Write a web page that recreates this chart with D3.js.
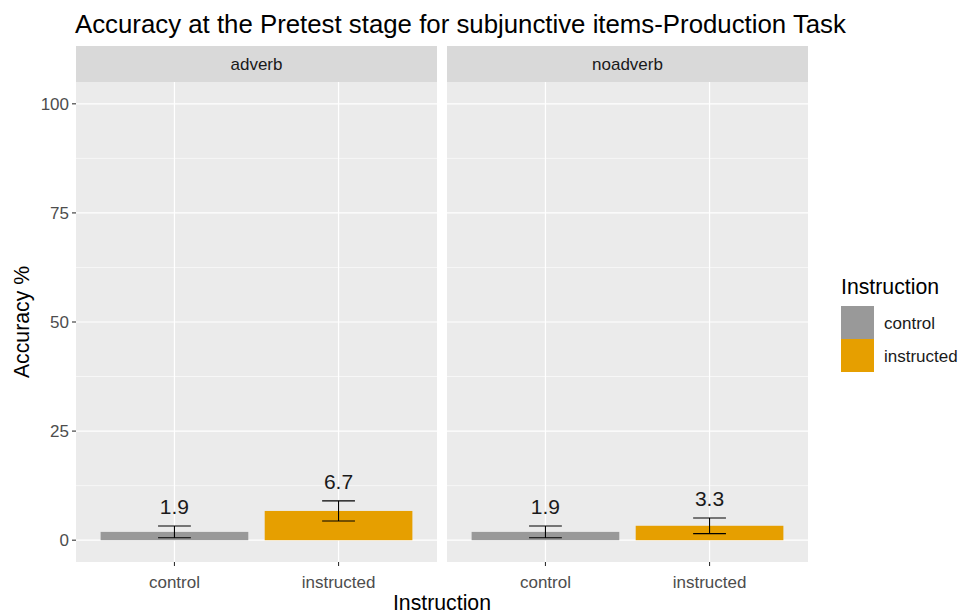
<!DOCTYPE html>
<html>
<head>
<meta charset="utf-8">
<script src="https://cdn.jsdelivr.net/npm/d3@7"></script>
<style>
  body { margin: 0; background: #fff; }
  text { font-family: "Liberation Sans", Arial, sans-serif; }
</style>
</head>
<body>
<svg id="chart" width="964" height="615"></svg>
<script>
// Facets, groups and summary values (mean accuracy % with standard error)
const facets = ["adverb", "noadverb"];
const groups = ["control", "instructed"];
const meanAdverb = [1.9, 6.7];
const seAdverb = [1.35, 2.3];
const meanNoadverb = [1.9, 3.3];
const seNoadverb = [1.35, 1.8];
const yTicks = [0, 25, 50, 75, 100];
const colors = ["#999999", "#E69F00"];

const facetData = [
  { name: facets[0], mean: meanAdverb, se: seAdverb },
  { name: facets[1], mean: meanNoadverb, se: seNoadverb }
];

const svg = d3.select("#chart");

const panelTop = 82, panelBottom = 562, stripTop = 46;
const panelX = [76, 447], panelW = 361;
const small = 17, axisTitle = 21.25, titleSize = 25.8;

const y = d3.scaleLinear().domain([-5, 105]).range([panelBottom, panelTop]);

// Title
svg.append("text").attr("x", 75).attr("y", 33)
  .attr("font-size", titleSize).attr("fill", "#000")
  .text("Accuracy at the Pretest stage for subjunctive items-Production Task");

facetData.forEach((f, fi) => {
  const x0 = panelX[fi];
  // discrete positions 1..n with 0.6 expansion on each side
  const x = d3.scaleLinear().domain([0.4, groups.length + 0.6]).range([x0, x0 + panelW]);
  const g = svg.append("g");

  // strip
  g.append("rect").attr("x", x0).attr("y", stripTop).attr("width", panelW)
    .attr("height", panelTop - stripTop).attr("fill", "#d9d9d9");
  g.append("text").attr("x", x0 + panelW / 2).attr("y", (stripTop + panelTop) / 2 + 6)
    .attr("text-anchor", "middle").attr("font-size", small).attr("fill", "#1a1a1a")
    .text(f.name);

  // panel background
  g.append("rect").attr("x", x0).attr("y", panelTop).attr("width", panelW)
    .attr("height", panelBottom - panelTop).attr("fill", "#ebebeb");

  // minor grid
  const minor = yTicks.slice(0, -1).map((t, i) => (t + yTicks[i + 1]) / 2);
  g.selectAll(".minor").data(minor).join("line")
    .attr("x1", x0).attr("x2", x0 + panelW)
    .attr("y1", d => y(d)).attr("y2", d => y(d))
    .attr("stroke", "#fff").attr("stroke-width", 0.6);
  // major grid
  g.selectAll(".major").data(yTicks).join("line")
    .attr("x1", x0).attr("x2", x0 + panelW)
    .attr("y1", d => y(d)).attr("y2", d => y(d))
    .attr("stroke", "#fff").attr("stroke-width", 1.2);
  g.selectAll(".vgrid").data(groups).join("line")
    .attr("x1", (d, i) => x(i + 1)).attr("x2", (d, i) => x(i + 1))
    .attr("y1", panelTop).attr("y2", panelBottom)
    .attr("stroke", "#fff").attr("stroke-width", 1.2);

  // bars
  g.selectAll(".bar").data(groups).join("rect")
    .attr("x", (d, i) => x(i + 1 - 0.45))
    .attr("width", (d, i) => x(i + 1.45) - x(i + 0.55))
    .attr("y", (d, i) => y(f.mean[i]))
    .attr("height", (d, i) => y(0) - y(f.mean[i]))
    .attr("fill", (d, i) => colors[i]);

  // error bars
  groups.forEach((grp, i) => {
    const cx = x(i + 1), hw = x(i + 1.1) - x(i + 1);
    const lo = y(f.mean[i] - f.se[i]), hi = y(f.mean[i] + f.se[i]);
    const eb = g.append("g").attr("stroke", "#000").attr("stroke-width", 1.1);
    eb.append("line").attr("x1", cx).attr("x2", cx).attr("y1", lo).attr("y2", hi);
    eb.append("line").attr("x1", cx - hw).attr("x2", cx + hw).attr("y1", lo).attr("y2", lo);
    eb.append("line").attr("x1", cx - hw).attr("x2", cx + hw).attr("y1", hi).attr("y2", hi);
    // value label
    g.append("text").attr("x", cx).attr("y", hi - 12)
      .attr("text-anchor", "middle").attr("font-size", 21).attr("fill", "#1a1a1a")
      .text(f.mean[i].toFixed(1));
  });

  // x axis ticks and labels
  groups.forEach((grp, i) => {
    g.append("line").attr("x1", x(i + 1)).attr("x2", x(i + 1))
      .attr("y1", panelBottom).attr("y2", panelBottom + 4)
      .attr("stroke", "#333").attr("stroke-width", 1.1);
    g.append("text").attr("x", x(i + 1)).attr("y", 588)
      .attr("text-anchor", "middle").attr("font-size", small).attr("fill", "#4d4d4d")
      .text(grp);
  });
});

// y axis ticks and labels
const ya = svg.append("g");
yTicks.forEach(t => {
  ya.append("line").attr("x1", panelX[0] - 4).attr("x2", panelX[0])
    .attr("y1", y(t)).attr("y2", y(t)).attr("stroke", "#333").attr("stroke-width", 1.1);
  ya.append("text").attr("x", panelX[0] - 7).attr("y", y(t) + 6)
    .attr("text-anchor", "end").attr("font-size", small).attr("fill", "#4d4d4d")
    .text(t);
});

// axis titles
svg.append("text").attr("x", (panelX[0] + panelX[1] + panelW) / 2).attr("y", 610)
  .attr("text-anchor", "middle").attr("font-size", axisTitle).attr("fill", "#000")
  .text("Instruction");
svg.append("text")
  .attr("transform", `translate(29,${(panelTop + panelBottom) / 2}) rotate(-90)`)
  .attr("text-anchor", "middle").attr("font-size", axisTitle).attr("fill", "#000")
  .text("Accuracy %");

// legend
const lg = svg.append("g");
lg.append("text").attr("x", 841).attr("y", 294).attr("font-size", axisTitle).attr("fill", "#000")
  .text("Instruction");
groups.forEach((grp, i) => {
  lg.append("rect").attr("x", 841).attr("y", 306 + i * 33).attr("width", 33).attr("height", 33)
    .attr("fill", colors[i]);
  lg.append("text").attr("x", 884).attr("y", 306 + i * 33 + 23)
    .attr("font-size", small).attr("fill", "#1a1a1a").text(grp);
});
</script>
</body>
</html>
